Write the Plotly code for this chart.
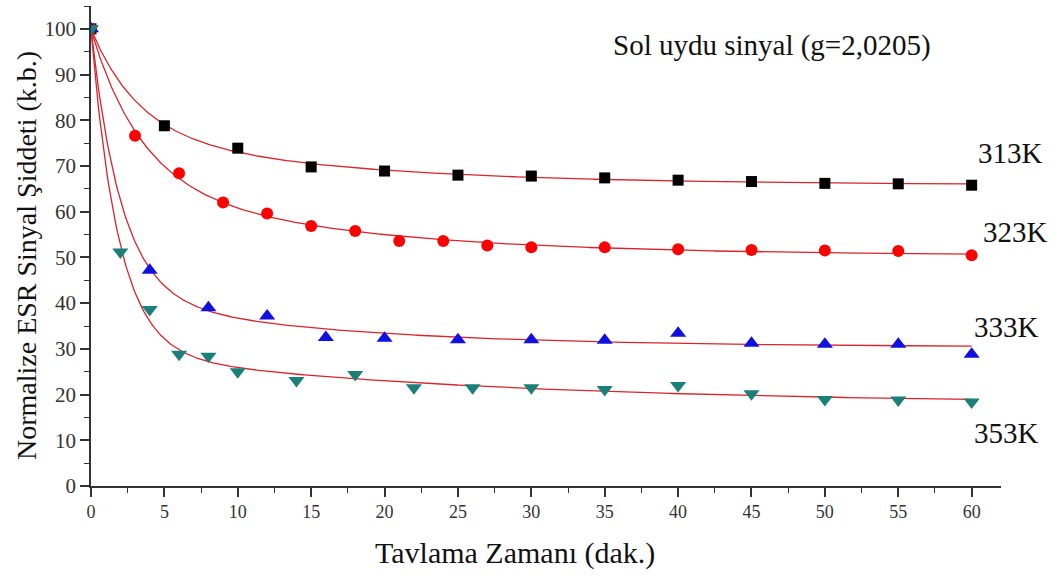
import numpy as np
import plotly.graph_objects as go

# Annealing time (min) and normalised ESR intensity (a.u.) for each temperature
t_313 = [0, 5, 10, 15, 20, 25, 30, 35, 40, 45, 50, 55, 60]
y_313 = [100, 78.8, 73.9, 69.8, 68.9, 68.0, 67.8, 67.4, 66.9, 66.6, 66.2, 66.1, 65.8]

t_323 = [0, 3, 6, 9, 12, 15, 18, 21, 24, 27, 30, 35, 40, 45, 50, 55, 60]
y_323 = [100, 76.6, 68.4, 62.0, 59.6, 56.9, 55.8, 53.6, 53.6, 52.6, 52.2, 52.2,
         51.8, 51.6, 51.5, 51.4, 50.5]

t_333 = [0, 4, 8, 12, 16, 20, 25, 30, 35, 40, 45, 50, 55, 60]
y_333 = [100, 47.2, 39.0, 37.2, 32.5, 32.3, 32.0, 32.0, 31.9, 33.4, 31.2, 31.0, 31.0, 28.8]

t_353 = [0, 2, 4, 6, 8, 10, 14, 18, 22, 26, 30, 35, 40, 45, 50, 55, 60]
y_353 = [100, 51.2, 38.6, 28.8, 28.4, 25.0, 23.1, 24.4, 21.5, 21.5, 21.5, 21.1,
         22.0, 20.2, 18.9, 18.8, 18.4]

series_names = ["313K", "323K", "333K", "353K"]
x_ticks = list(range(0, 61, 5))
y_ticks = list(range(0, 101, 10))

FONT = "Liberation Serif"
W, H = 1060, 577
ML, MR, MT, MB = 91, 59, 6, 91
PW, PH = W - ML - MR, H - MT - MB


def paper(px, py):
    """Convert a page position in pixels to paper coordinates."""
    return (px - ML) / PW, 1 - (py - MT) / PH


def fit_expdec2(t, y):
    """Least-squares fit of y = y0 + A1*exp(-t/t1) + A2*exp(-t/t2)."""
    t = np.asarray(t, float)
    y = np.asarray(y, float)
    best = None
    for t1 in np.linspace(0.3, 15, 150):
        for t2 in np.geomspace(15, 2000, 60):
            M = np.column_stack([np.ones_like(t), np.exp(-t / t1), np.exp(-t / t2)])
            coef, *_ = np.linalg.lstsq(M, y, rcond=None)
            sse = float(np.sum((M @ coef - y) ** 2))
            if best is None or sse < best[0]:
                best = (sse, t1, t2, coef)
    _, t1, t2, c = best
    return lambda x: c[0] + c[1] * np.exp(-x / t1) + c[2] * np.exp(-x / t2)


fig = go.Figure()

styles = [
    (t_313, y_313, dict(symbol="square", color="#000000", size=11)),
    (t_323, y_323, dict(symbol="circle", color="#ff0000", size=12)),
    (t_333, y_333, dict(symbol="triangle-up", color="#1010e0", size=14)),
    (t_353, y_353, dict(symbol="triangle-down", color="#1a8078", size=14)),
]

# Fitted decay curves
xs = np.linspace(0, 60, 600)
for t, y, _ in styles:
    f = fit_expdec2(t, y)
    fig.add_trace(go.Scatter(x=xs, y=f(xs), mode="lines",
                             line=dict(color="#d8242c", width=1.3),
                             showlegend=False, hoverinfo="skip"))

# Measured points
for (t, y, m), name in zip(styles, series_names):
    fig.add_trace(go.Scatter(x=t, y=y, mode="markers", name=name,
                             marker=dict(symbol=m["symbol"], color=m["color"],
                                         size=m["size"], line=dict(width=0)),
                             showlegend=False))

# Temperature labels at the right end of each curve
label_px = [(1010, 153), (1015, 232), (1006, 327), (1006, 433)]
for name, (px, py) in zip(series_names, label_px):
    ax, ay = paper(px, py)
    fig.add_annotation(x=ax, y=ay, xref="paper", yref="paper", text=name,
                       showarrow=False, xanchor="center", yanchor="middle",
                       font=dict(family=FONT, size=29, color="#111111"))

tx, ty = paper(772, 45)
fig.add_annotation(x=tx, y=ty, xref="paper", yref="paper",
                   text="Sol uydu sinyal (g=2,0205)", showarrow=False,
                   xanchor="center", yanchor="middle",
                   font=dict(family=FONT, size=29, color="#111111"))

# Axis titles
xx, xy = paper(515, 553)
fig.add_annotation(x=xx, y=xy, xref="paper", yref="paper",
                   text="Tavlama Zamanı (dak.)", showarrow=False,
                   xanchor="center", yanchor="middle",
                   font=dict(family=FONT, size=30, color="#111111"))
yx, yy = paper(26, 256)
fig.add_annotation(x=yx, y=yy, xref="paper", yref="paper",
                   text="Normalize ESR Sinyal Şiddeti (k.b.)", textangle=-90,
                   showarrow=False, xanchor="center", yanchor="middle",
                   font=dict(family=FONT, size=28, color="#111111"))

axis_common = dict(
    showline=True, linecolor="#333333", linewidth=1.6,
    ticks="outside", ticklen=9, tickwidth=1.5, tickcolor="#333333",
    showgrid=False, zeroline=False,
)

fig.update_xaxes(range=[0, 62], tickvals=x_ticks,
                 tickfont=dict(family=FONT, size=18, color="#333333"),
                 minor=dict(dtick=2.5, ticks="outside", ticklen=5,
                            tickwidth=1.2, tickcolor="#333333"),
                 **axis_common)
fig.update_yaxes(range=[0, 105], tickvals=y_ticks,
                 tickfont=dict(family=FONT, size=21, color="#333333"),
                 minor=dict(dtick=5, ticks="outside", ticklen=5,
                            tickwidth=1.2, tickcolor="#333333"),
                 **axis_common)

fig.update_layout(
    width=W, height=H,
    margin=dict(l=ML, r=MR, t=MT, b=MB),
    paper_bgcolor="white", plot_bgcolor="white",
)

fig.write_html("out.html")
